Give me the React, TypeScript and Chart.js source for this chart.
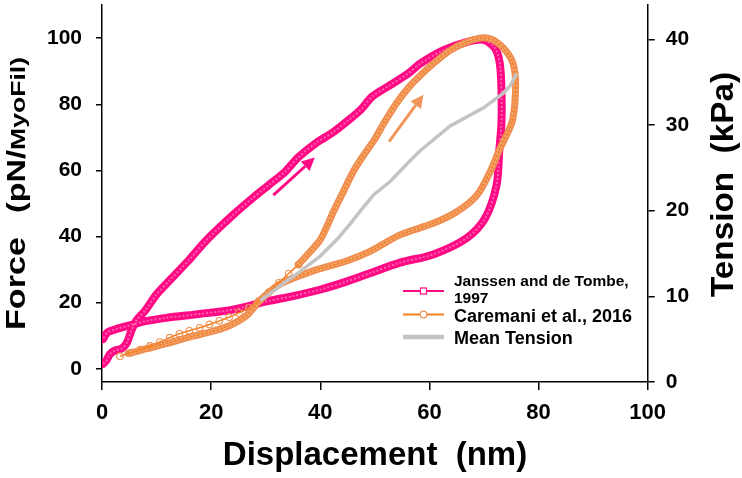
import React, { useEffect, useRef } from "react";
import { Chart, registerables } from "chart.js";

Chart.register(...registerables);

const FAMILY = "'Liberation Sans', Arial, Helvetica, sans-serif";

// ---------- data ----------
const xTicks = [0, 20, 40, 60, 80, 100];
const forceTicks = [0, 20, 40, 60, 80, 100];
const tensionTicks = [0, 10, 20, 30, 40];

// Janssen and de Tombe, 1997 (Force, pN/MyoFil)
const janssenX = [0.2, 0.8, 1.5, 2.5, 3.5, 4.5, 5.4, 6.3, 7.9, 10, 12.5, 16, 19.2, 24, 27.5, 30.5, 33.5, 36, 39.3, 42.4, 45.4, 47.5, 49.5, 52.8, 56.1, 58.3, 62.5, 66.8, 69.9, 72, 72.9, 73.2, 73.2, 72.8, 72.3, 70.2, 66.8, 60.7, 54.6, 49.1, 44.5, 39.9, 35, 30.2, 24, 18, 11.8, 8, 5.7, 2.6, 1, 0.2];
const janssenY = [1.5, 2.5, 4.5, 5.6, 6.0, 7.7, 11.6, 14.6, 17.6, 22.5, 26.9, 33, 39, 46.5, 51.5, 55.5, 59.5, 64, 68.4, 71.6, 75.5, 78.5, 82.3, 85.8, 89.3, 92.3, 96.3, 98.8, 99.5, 97, 92.3, 84.3, 74.4, 65.9, 55.5, 45.5, 39.5, 34.6, 32.1, 28.9, 26.2, 23.9, 22, 20.4, 17.9, 16.6, 15.4, 14.4, 13.4, 12, 11, 9];

// Caremani et al., 2016 - sparse start of the loading branch
const caremaniStartX = [3.3, 5.2, 7, 8.8, 10.6, 12.4, 14.2, 16, 17.9, 19.7, 21.5, 23.3, 25.1, 26.9, 28.7, 30.6, 32.4, 34.2, 36];
const caremaniStartY = [3.8, 4.8, 5.8, 6.9, 8.1, 9.4, 10.6, 11.5, 12.4, 13.4, 14.5, 15.6, 16.9, 18.5, 20.5, 23.2, 26, 28.8, 31.5];

// Caremani et al., 2016 - dense rest of the loop
const caremaniLoopX = [36, 37.8, 39.9, 41.2, 42.4, 44.2, 46, 47.9, 50, 51.7, 54, 56.4, 58.5, 60.7, 63.8, 66.8, 69.9, 72.3, 74.8, 75.7, 75.7, 75.1, 72.9, 71.1, 68.7, 65, 60.7, 54.6, 49.2, 44.8, 38.7, 32.6, 28.9, 26.5, 23.4, 20, 16, 11.8, 8, 5.7, 4.8];
const caremaniLoopY = [31.5, 34.8, 38.8, 43, 47.5, 53.5, 59.5, 64.5, 69.5, 74.4, 80.4, 85.5, 89, 92.3, 96.3, 98.8, 100.1, 98.8, 94.3, 89.3, 81.4, 74.4, 66.5, 59.5, 52.5, 47.5, 44, 40.5, 35.6, 32.6, 29.6, 25.6, 20.6, 16.1, 13.1, 11.2, 9.6, 7.6, 6, 5, 4.7];

// Mean Tension (kPa, right axis)
const meanX = [29, 33, 36.5, 40, 43, 45.4, 47.5, 49.7, 52.8, 56.4, 58.3, 63.8, 69.9, 73.5, 74.8, 76];
const meanKPa = [9.5, 11.4, 13, 14.7, 16.6, 18.4, 20.1, 21.8, 23.4, 25.8, 27, 29.9, 32, 33.7, 34.6, 36];

// direction arrows (data units: [x, force])
const arrowJanssen = [[31.4, 52.5], [39, 63.9]];
const arrowCaremani = [[52.6, 68.7], [58.9, 82.9]];

const legendJanssen = ["Janssen and de Tombe,", "1997"];
const legendCaremani = "Caremani et al., 2016";
const legendMean = "Mean Tension";

const xTitle = "Displacement  (nm)";
const yTitleParts = ["Force", "(pN/", "MyoFil)"];
const y1Title = "Tension  (kPa)";

// ---------- colours ----------
const PINK = "#FF0A84";
const ORANGE_BAND = "#EF8E4E";
const ORANGE_LINE = "#F5801E";
const ORANGE_MARK = "#EE9258";
const GRAY = "#C4C4C4";

const pts = (xs: number[], ys: number[]) => xs.map((x, i) => ({ x, y: ys[i] }));

function drawArrow(ctx: CanvasRenderingContext2D, x1: number, y1: number, x2: number, y2: number, color: string) {
  const ang = Math.atan2(y2 - y1, x2 - x1);
  const headLen = 13;
  const headHalf = 6.5;
  const bx = x2 - headLen * Math.cos(ang);
  const by = y2 - headLen * Math.sin(ang);
  ctx.save();
  ctx.strokeStyle = color;
  ctx.fillStyle = color;
  ctx.lineWidth = 3;
  ctx.beginPath();
  ctx.moveTo(x1, y1);
  ctx.lineTo(bx, by);
  ctx.stroke();
  ctx.beginPath();
  ctx.moveTo(x2, y2);
  ctx.lineTo(bx + headHalf * Math.sin(ang), by - headHalf * Math.cos(ang));
  ctx.lineTo(bx - headHalf * Math.sin(ang), by + headHalf * Math.cos(ang));
  ctx.closePath();
  ctx.fill();
  ctx.restore();
}

function drawRotated(ctx: CanvasRenderingContext2D, text: string, size: number, baseX: number, startY: number, endY: number) {
  ctx.save();
  ctx.font = `bold ${size}px ${FAMILY}`;
  const w = ctx.measureText(text).width;
  const stretch = (startY - endY) / w;
  ctx.translate(baseX, startY);
  ctx.rotate(-Math.PI / 2);
  ctx.scale(stretch, 1);
  ctx.fillStyle = "#000";
  ctx.textAlign = "left";
  ctx.textBaseline = "alphabetic";
  ctx.fillText(text, 0, 0);
  ctx.restore();
}

const decorPlugin = {
  id: "decor",
  afterDraw(chart: any) {
    const ctx: CanvasRenderingContext2D = chart.ctx;
    const xs = chart.scales.x;
    const ys = chart.scales.y;
    // arrows
    drawArrow(ctx, xs.getPixelForValue(arrowJanssen[0][0]), ys.getPixelForValue(arrowJanssen[0][1]),
      xs.getPixelForValue(arrowJanssen[1][0]), ys.getPixelForValue(arrowJanssen[1][1]), PINK);
    drawArrow(ctx, xs.getPixelForValue(arrowCaremani[0][0]), ys.getPixelForValue(arrowCaremani[0][1]),
      xs.getPixelForValue(arrowCaremani[1][0]), ys.getPixelForValue(arrowCaremani[1][1]), "#F0945A");

    // axis titles
    ctx.save();
    ctx.fillStyle = "#000";
    ctx.font = `bold 33px ${FAMILY}`;
    ctx.textAlign = "center";
    ctx.textBaseline = "alphabetic";
    ctx.fillText(xTitle, 375, 465);
    ctx.restore();

    drawRotated(ctx, yTitleParts[0], 28, 25, 330, 237);
    drawRotated(ctx, yTitleParts[1], 25, 25, 213, 150);
    drawRotated(ctx, yTitleParts[2], 21, 25, 150, 57);
    drawRotated(ctx, y1Title, 31, 733, 297, 72);

    // legend
    ctx.save();
    ctx.lineCap = "butt";
    // Janssen
    ctx.strokeStyle = PINK;
    ctx.lineWidth = 2;
    ctx.beginPath(); ctx.moveTo(403, 291); ctx.lineTo(444, 291); ctx.stroke();
    ctx.fillStyle = "#fff";
    ctx.lineWidth = 1.2;
    ctx.fillRect(420.5, 288, 6, 6);
    ctx.strokeRect(420.5, 288, 6, 6);
    // Caremani
    ctx.strokeStyle = ORANGE_LINE;
    ctx.lineWidth = 2;
    ctx.beginPath(); ctx.moveTo(403, 314.5); ctx.lineTo(444, 314.5); ctx.stroke();
    ctx.strokeStyle = ORANGE_MARK;
    ctx.lineWidth = 1.2;
    ctx.beginPath(); ctx.arc(423.5, 314.5, 3.3, 0, Math.PI * 2); ctx.fill(); ctx.stroke();
    // Mean
    ctx.strokeStyle = GRAY;
    ctx.lineWidth = 4.5;
    ctx.beginPath(); ctx.moveTo(403, 337); ctx.lineTo(444, 337); ctx.stroke();

    ctx.fillStyle = "#000";
    ctx.textAlign = "left";
    ctx.textBaseline = "alphabetic";
    ctx.font = `bold 15.5px ${FAMILY}`;
    ctx.fillText(legendJanssen[0], 454, 285.5);
    ctx.fillText(legendJanssen[1], 454, 303);
    ctx.font = `bold 18px ${FAMILY}`;
    ctx.fillText(legendCaremani, 454, 321.5);
    ctx.fillText(legendMean, 454, 344);
    ctx.restore();
  },
};

const noPad = (s: any) => {
  s.paddingTop = 0;
  s.paddingBottom = 0;
  s.paddingLeft = 0;
  s.paddingRight = 0;
};

export default function App() {
  const ref = useRef<HTMLCanvasElement | null>(null);

  useEffect(() => {
    if (!ref.current) return;
    const tickFont = (size: number) => ({ family: FAMILY, size, weight: "bold" as const });
    const chart = new Chart(ref.current, {
      type: "scatter",
      data: {
        datasets: [
          {
            label: "Mean Tension",
            data: pts(meanX, meanKPa),
            yAxisID: "y1",
            showLine: true,
            borderColor: GRAY,
            borderWidth: 3.5,
            pointRadius: 0,
            tension: 0,
            order: 0,
          },
          {
            label: "Caremani center",
            data: pts(caremaniLoopX, caremaniLoopY),
            yAxisID: "y",
            showLine: true,
            borderColor: ORANGE_LINE,
            borderWidth: 1,
            pointRadius: 0,
            tension: 0.3,
            order: 1,
          },
          {
            label: "Caremani texture",
            data: pts(caremaniLoopX, caremaniLoopY),
            yAxisID: "y",
            showLine: true,
            borderColor: "rgba(255,236,215,0.45)",
            borderWidth: 3,
            borderDash: [2, 2],
            pointRadius: 0,
            tension: 0.3,
            order: 2,
          },
          {
            label: "Caremani et al., 2016",
            data: pts(caremaniLoopX, caremaniLoopY),
            yAxisID: "y",
            showLine: true,
            borderColor: ORANGE_BAND,
            borderWidth: 7,
            borderJoinStyle: "round",
            borderCapStyle: "round",
            pointRadius: 0,
            tension: 0.3,
            order: 3,
          },
          {
            label: "Caremani start",
            data: pts(caremaniStartX, caremaniStartY),
            yAxisID: "y",
            showLine: true,
            borderColor: ORANGE_LINE,
            borderWidth: 1.5,
            pointStyle: "circle",
            pointRadius: 3.3,
            pointBorderWidth: 1.1,
            pointBorderColor: ORANGE_MARK,
            pointBackgroundColor: "rgba(255,255,255,0)",
            tension: 0.3,
            order: 1,
          },
          {
            label: "Janssen texture",
            data: pts(janssenX, janssenY),
            yAxisID: "y",
            showLine: true,
            borderColor: "rgba(255,255,255,0.35)",
            borderWidth: 2,
            borderDash: [2, 2],
            pointRadius: 0,
            tension: 0.3,
            order: 4,
          },
          {
            label: "Janssen and de Tombe, 1997",
            data: pts(janssenX, janssenY),
            yAxisID: "y",
            showLine: true,
            borderColor: PINK,
            borderWidth: 8,
            borderJoinStyle: "round",
            borderCapStyle: "round",
            pointRadius: 0,
            tension: 0.3,
            order: 5,
          },
        ],
      },
      options: {
        animation: false,
        responsive: false,
        maintainAspectRatio: false,
        events: [],
        layout: { padding: { top: 1, left: 0, right: 0, bottom: 0 } },
        plugins: { legend: { display: false }, tooltip: { enabled: false }, title: { display: false } },
        scales: {
          x: {
            type: "linear",
            position: "bottom",
            min: 0,
            max: 100,
            afterFit: (s: any) => { s.height = 96; noPad(s); },
            afterBuildTicks: (s: any) => { s.ticks = xTicks.map((v) => ({ value: v })); },
            ticks: { font: tickFont(22), color: "#000", padding: 10, maxRotation: 0, autoSkip: false },
            grid: { drawOnChartArea: false, drawTicks: true, tickLength: 8, color: "#000", lineWidth: 1.5 },
            border: { display: true, color: "#000", width: 1.5 },
          },
          y: {
            type: "linear",
            position: "left",
            min: -4,
            max: 110,
            afterFit: (s: any) => { s.width = 102; noPad(s); },
            afterBuildTicks: (s: any) => { s.ticks = forceTicks.map((v) => ({ value: v })); },
            ticks: { font: tickFont(21), color: "#000", padding: 14, autoSkip: false },
            grid: { drawOnChartArea: false, drawTicks: true, tickLength: 6, color: "#000", lineWidth: 1.5 },
            border: { display: true, color: "#000", width: 1.5 },
          },
          y1: {
            type: "linear",
            position: "right",
            min: 0,
            max: 44,
            afterFit: (s: any) => { s.width = 94.3; noPad(s); },
            afterBuildTicks: (s: any) => { s.ticks = tensionTicks.map((v) => ({ value: v })); },
            ticks: { font: tickFont(21), color: "#000", padding: 11, autoSkip: false },
            grid: { drawOnChartArea: false, drawTicks: true, tickLength: 7, color: "#000", lineWidth: 1.5 },
            border: { display: true, color: "#000", width: 1.5 },
          },
        },
      },
      plugins: [decorPlugin],
    });
    return () => chart.destroy();
  }, []);

  return (
    <div style={{ position: "fixed", left: 0, top: 0, width: 742, height: 478, background: "#fff" }}>
      <canvas ref={ref} width={742} height={478} style={{ display: "block", width: 742, height: 478 }} />
    </div>
  );
}
